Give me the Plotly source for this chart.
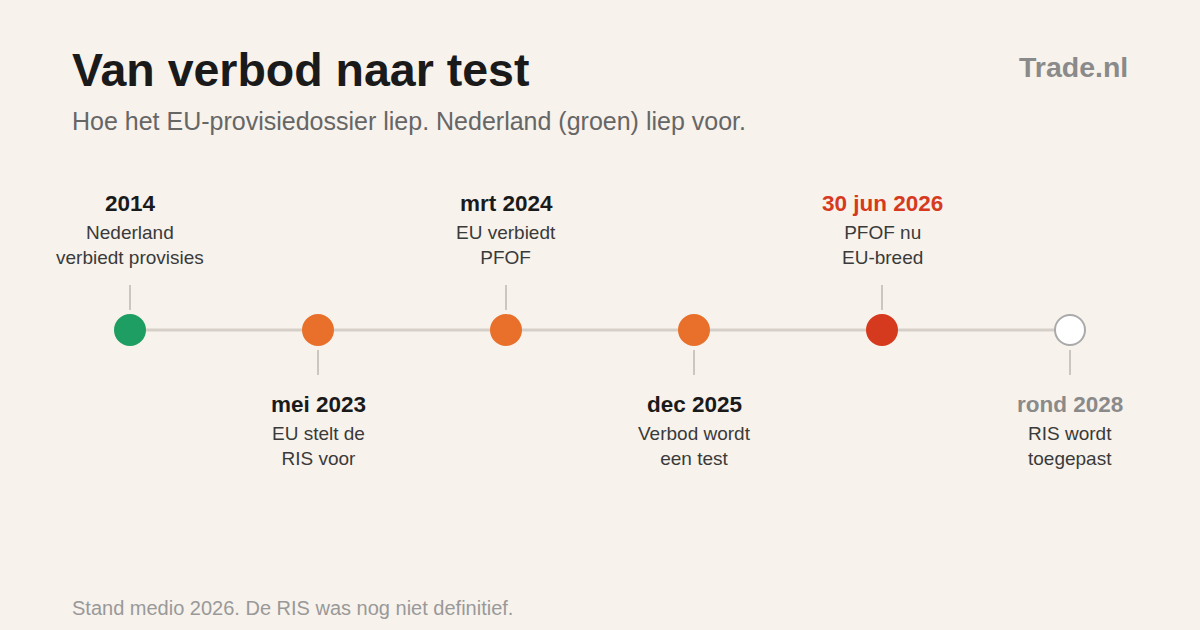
import plotly.graph_objects as go

# Tijdlijn EU-provisiedossier
dates = ["2014", "mei 2023", "mrt 2024", "dec 2025", "30 jun 2026", "rond 2028"]
descs = ["Nederland<br>verbiedt provisies", "EU stelt de<br>RIS voor", "EU verbiedt<br>PFOF",
         "Verbod wordt<br>een test", "PFOF nu<br>EU-breed", "RIS wordt<br>toegepast"]
above = [True, False, True, False, True, False]
dot_colors = ["#1e9e62", "#e8702a", "#e8702a", "#e8702a", "#d63a1e", "#ffffff"]
dot_lines = ["#1e9e62", "#e8702a", "#e8702a", "#e8702a", "#d63a1e", "#aaaaaa"]
date_colors = ["#1a1a1a", "#1a1a1a", "#1a1a1a", "#1a1a1a", "#d63a1e", "#8a8a8a"]

idx = list(range(len(dates)))
LINE_Y = 330
FONT = "Liberation Sans"

fig = go.Figure()
fig.add_trace(go.Scatter(x=[idx[0], idx[-1]], y=[LINE_Y, LINE_Y], mode="lines",
                         line=dict(color="#d5cfc8", width=3), hoverinfo="skip"))
for i in idx:
    y0, y1 = (285, 310) if above[i] else (350, 375)
    fig.add_trace(go.Scatter(x=[i, i], y=[y0, y1], mode="lines",
                             line=dict(color="#bdb7b0", width=1.5), hoverinfo="skip"))
fig.add_trace(go.Scatter(x=idx, y=[LINE_Y] * len(idx), mode="markers",
                         marker=dict(size=30, color=dot_colors,
                                     line=dict(color=dot_lines, width=2)),
                         hoverinfo="skip"))

for i in idx:
    dy = 203 if above[i] else 404
    fig.add_annotation(x=i, y=dy, text=f"<b>{dates[i]}</b>", showarrow=False,
                       font=dict(size=22.5, color=date_colors[i], family=FONT))
    fig.add_annotation(x=i, y=dy + 42, text=descs[i], showarrow=False,
                       font=dict(size=19, color="#3a3a3a", family=FONT))

fig.add_annotation(xref="paper", yref="paper", x=70 / 1200, y=1 - 70 / 630, xanchor="left",
                   yanchor="middle", text="<b>Van verbod naar test</b>", showarrow=False,
                   font=dict(size=46.5, color="#1a1a1a", family=FONT))
fig.add_annotation(xref="paper", yref="paper", x=70 / 1200, y=1 - 121 / 630, xanchor="left",
                   yanchor="middle", showarrow=False,
                   text="Hoe het EU-provisiedossier liep. Nederland (groen) liep voor.",
                   font=dict(size=25, color="#666666", family=FONT))
fig.add_annotation(xref="paper", yref="paper", x=1130 / 1200, y=1 - 67 / 630, xanchor="right",
                   yanchor="middle", text="<b>Trade.nl</b>", showarrow=False,
                   font=dict(size=28.5, color="#8a8a8a", family=FONT))
fig.add_annotation(xref="paper", yref="paper", x=70 / 1200, y=1 - 608 / 630, xanchor="left",
                   yanchor="middle", text="Stand medio 2026. De RIS was nog niet definitief.",
                   showarrow=False,
                   font=dict(size=20, color="#999999", family=FONT))

fig.update_layout(
    width=1200, height=630, margin=dict(l=0, r=0, t=0, b=0),
    paper_bgcolor="#f7f2ec", plot_bgcolor="#f7f2ec", showlegend=False,
    xaxis=dict(range=[-130 / 188, (1200 - 130) / 188], visible=False, fixedrange=True),
    yaxis=dict(range=[630, 0], visible=False, fixedrange=True),
)
fig.write_html("out.html", config={"displayModeBar": False},
               post_script="document.body.style.margin='0';document.body.style.overflow='hidden';")
